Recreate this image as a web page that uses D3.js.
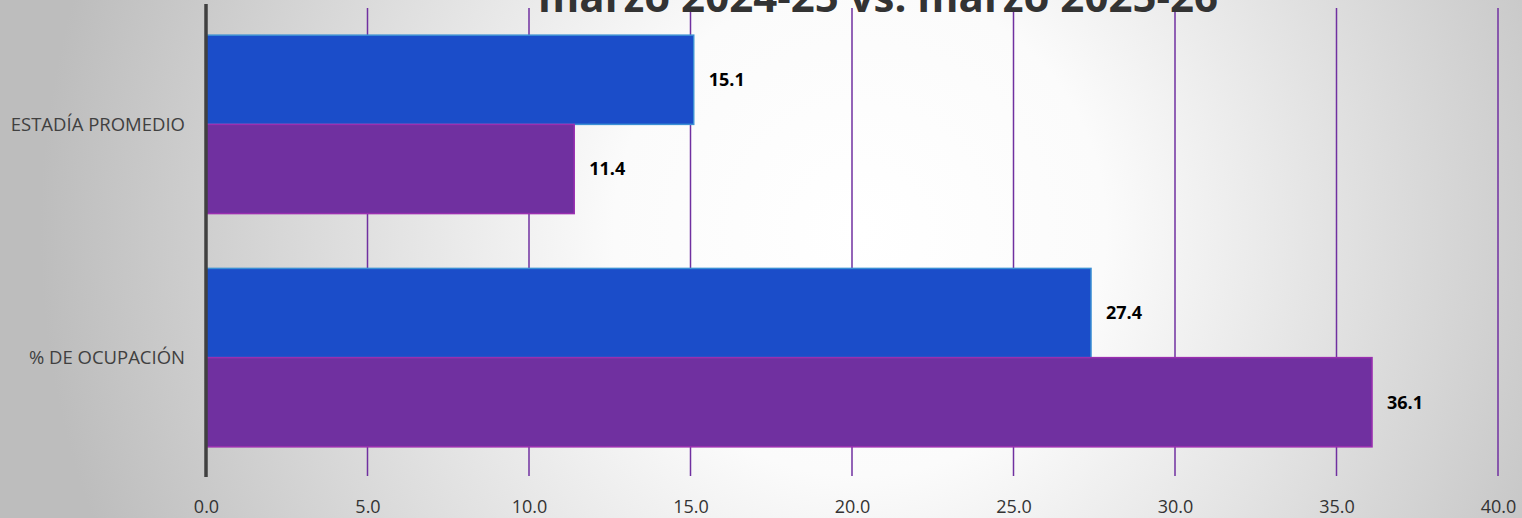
<!DOCTYPE html>
<html>
<head>
<meta charset="utf-8">
<script src="https://cdn.jsdelivr.net/npm/d3@7"></script>
<style>
  html, body { margin: 0; padding: 0; overflow: hidden; }
  svg { display: block; }
</style>
</head>
<body>
<div id="chart"></div>
<script>
var categories = ["ESTADÍA PROMEDIO", "% DE OCUPACIÓN"];
var series2024 = [15.1, 27.4];   // marzo 2024-25 (azul)
var series2025 = [11.4, 36.1];   // marzo 2025-26 (morado)
var xTicks = [0, 5, 10, 15, 20, 25, 30, 35, 40];
var titleText = "marzo 2024-25 vs. marzo 2025-26";

var width = 1522, height = 518;
var plotLeft = 206, plotRight = 1498, plotTop = 6, plotBottom = 476;
var font = "'Open Sans', 'Noto Sans', sans-serif";

var svg = d3.select("#chart").append("svg")
    .attr("width", width)
    .attr("height", height);

var defs = svg.append("defs");
var grad = defs.append("radialGradient")
    .attr("id", "bg")
    .attr("gradientUnits", "userSpaceOnUse")
    .attr("cx", 860).attr("cy", 230).attr("r", 820);
grad.append("stop").attr("offset", "0%").attr("stop-color", "#ffffff");
grad.append("stop").attr("offset", "30%").attr("stop-color", "#fbfbfb");
grad.append("stop").attr("offset", "100%").attr("stop-color", "#bdbdbd");

svg.append("rect").attr("width", width).attr("height", height).attr("fill", "url(#bg)");

var x = d3.scaleLinear().domain([0, 40]).range([plotLeft, plotRight]);
var y = d3.scaleBand().domain(categories).range([plotTop, plotBottom])
    .paddingInner(0.235).paddingOuter(0.125);
var ySub = d3.scaleBand().domain(["a", "b"]).range([0, y.bandwidth()]);

// vertical gridlines
svg.append("g").selectAll("line")
    .data(xTicks.slice(1))
    .enter().append("line")
    .attr("x1", function (d) { return x(d); })
    .attr("x2", function (d) { return x(d); })
    .attr("y1", plotTop + 2)
    .attr("y2", plotBottom)
    .attr("stroke", "#7030a0")
    .attr("stroke-width", 1.5);

// title (partially cut at top, as in the original)
svg.append("text")
    .attr("x", 878)
    .attr("y", 12)
    .attr("text-anchor", "middle")
    .attr("font-family", font)
    .attr("font-weight", "bold")
    .attr("font-size", 42)
    .attr("fill", "#333333")
    .text(titleText);

var groups = [
    { key: "a", values: series2024, fill: "#1b4dc9", stroke: "#3b8fd4" },
    { key: "b", values: series2025, fill: "#7030a0", stroke: "#9a2fb0" }
];

groups.forEach(function (g) {
    var rows = categories.map(function (c, i) { return { cat: c, v: g.values[i] }; });
    svg.append("g").selectAll("rect")
        .data(rows)
        .enter().append("rect")
        .attr("x", x(0))
        .attr("y", function (d) { return y(d.cat) + ySub(g.key); })
        .attr("width", function (d) { return x(d.v) - x(0); })
        .attr("height", ySub.bandwidth())
        .attr("fill", g.fill)
        .attr("stroke", g.stroke)
        .attr("stroke-width", 1.5);

    svg.append("g").selectAll("text")
        .data(rows)
        .enter().append("text")
        .attr("x", function (d) { return x(d.v) + 15; })
        .attr("y", function (d) { return y(d.cat) + ySub(g.key) + ySub.bandwidth() / 2; })
        .attr("dy", "0.35em")
        .attr("font-family", font)
        .attr("font-weight", "bold")
        .attr("font-size", 18)
        .attr("fill", "#000000")
        .text(function (d) { return d.v.toFixed(1); });
});

// y axis line
svg.append("line")
    .attr("x1", plotLeft).attr("x2", plotLeft)
    .attr("y1", plotTop - 2).attr("y2", plotBottom + 1)
    .attr("stroke", "#404040")
    .attr("stroke-width", 3.5);

// category labels
svg.append("g").selectAll("text")
    .data(categories)
    .enter().append("text")
    .attr("x", 185)
    .attr("y", function (d) { return y(d) + y.bandwidth() / 2; })
    .attr("dy", "0.35em")
    .attr("text-anchor", "end")
    .attr("font-family", font)
    .attr("font-size", 18.5)
    .attr("fill", "#404040")
    .text(function (d) { return d; });

// x axis tick labels
var xAxis = d3.axisBottom(x).tickValues(xTicks).tickSize(0).tickPadding(0)
    .tickFormat(function (d) { return d.toFixed(1); });
var ax = svg.append("g").attr("transform", "translate(0," + 500 + ")").call(xAxis);
ax.select(".domain").remove();
ax.selectAll("text")
    .attr("font-family", font)
    .attr("font-size", 18)
    .attr("fill", "#333333");
</script>
</body>
</html>
